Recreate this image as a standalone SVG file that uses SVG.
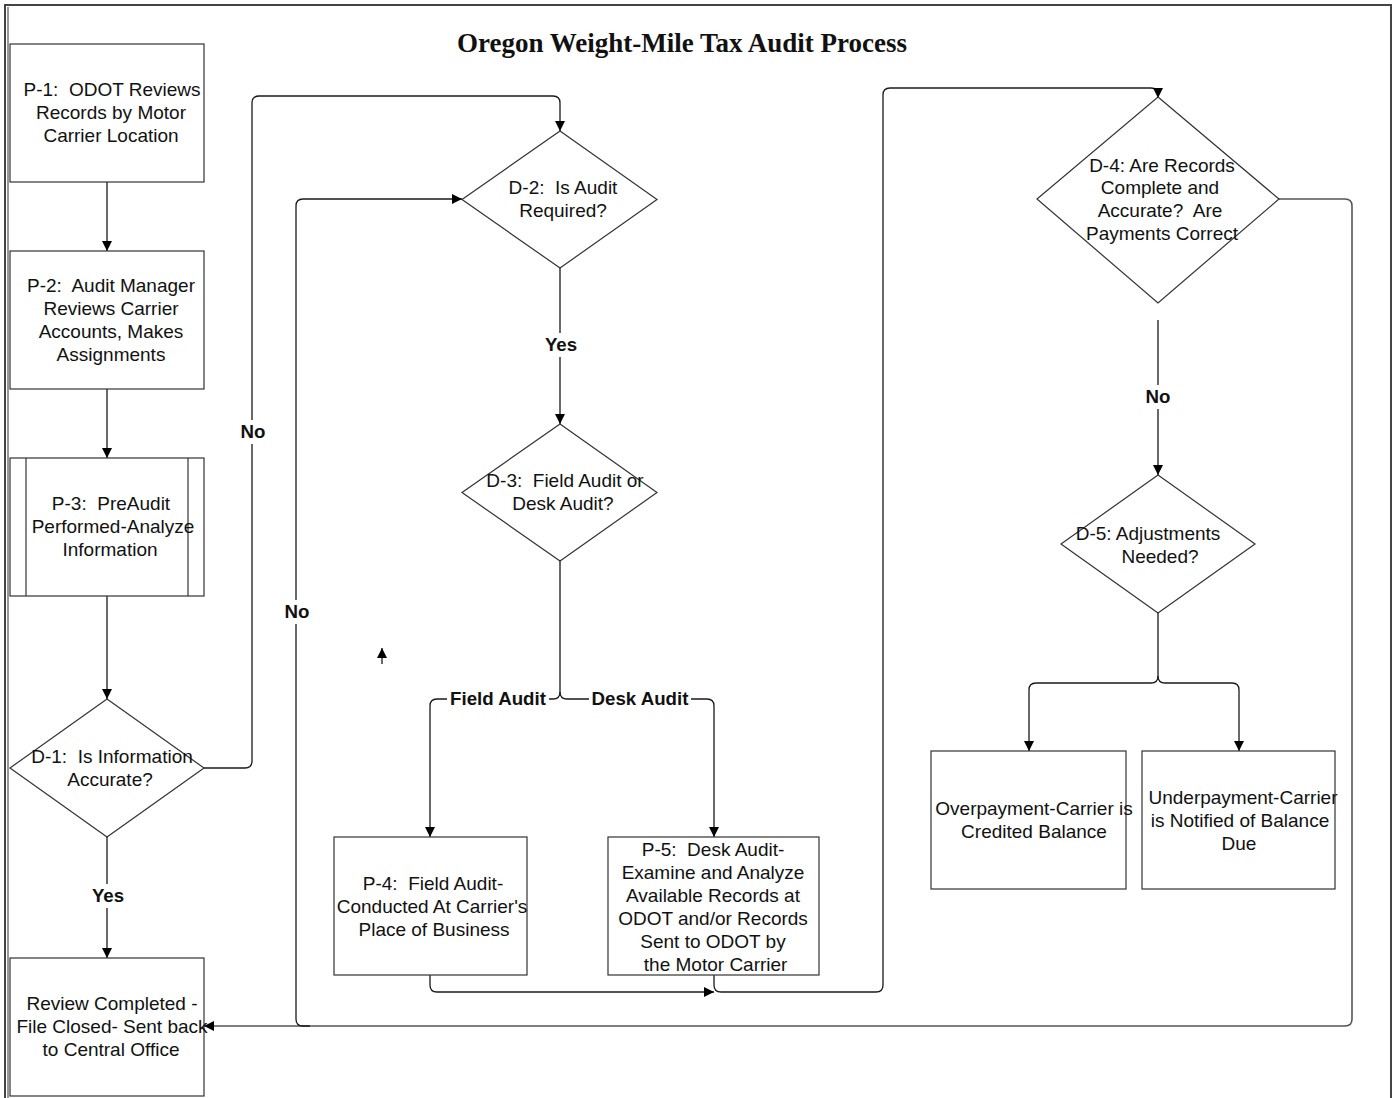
<svg xmlns="http://www.w3.org/2000/svg" width="1396" height="1098" viewBox="0 0 1396 1098">
<style>
.box{fill:#fff;stroke:#333;stroke-width:1.2}
.t{font-family:"Liberation Sans",Arial,sans-serif;font-size:19px;fill:#111;text-anchor:middle;white-space:pre}
.lb{font-family:"Liberation Sans",Arial,sans-serif;font-size:18.7px;font-weight:bold;fill:#111;text-anchor:middle}
.c{fill:none;stroke:#1a1a1a;stroke-width:1.3}
.cg{fill:none;stroke:#555;stroke-width:1.6}
.bg{fill:#fff}
</style>
<defs>
<marker id="ah" viewBox="0 0 10 10" refX="10" refY="5" markerWidth="10" markerHeight="10" markerUnits="userSpaceOnUse" orient="auto">
<path d="M0,0 L10,5 L0,10 z" fill="#000"/>
</marker>
</defs>
<rect width="1396" height="1098" fill="#fff"/>
<g id="frame" fill="none">
<path d="M5 1098 V5 H1391 V1098" stroke="#444" stroke-width="2"/>
<line x1="8" y1="7" x2="8" y2="1098" stroke="#333" stroke-width="1"/>
</g>
<text x="682" y="52" font-family="Liberation Serif,Times New Roman,serif" font-size="27" font-weight="bold" text-anchor="middle" fill="#111">Oregon Weight-Mile Tax Audit Process</text>
<g id="connectors">
<path class="c" d="M107 182 V251" marker-end="url(#ah)"/>
<path class="c" d="M107 389 V458" marker-end="url(#ah)"/>
<path class="c" d="M107 596 V699" marker-end="url(#ah)"/>
<path class="c" d="M107 837 V958" marker-end="url(#ah)"/>
<path class="c" d="M204 768 H245 Q252 768 252 761 V103 Q252 96 259 96 H553 Q560 96 560 103 V131" marker-end="url(#ah)"/>
<path class="c" d="M560 268 V424" marker-end="url(#ah)"/>
<path class="c" d="M560 561 V692 Q560 699 553 699 H437 Q430 699 430 706 V837" marker-end="url(#ah)"/>
<path class="c" d="M560 692 Q560 699 567 699 H707 Q714 699 714 706 V837" marker-end="url(#ah)"/>
<path class="c" d="M430 975 V985 Q430 992 437 992 H714" marker-end="url(#ah)"/>
<path class="c" d="M714 975 V985 Q714 992 721 992 H876 Q883 992 883 985 V95 Q883 88 890 88 H1151 Q1158 88 1158 95 V98" marker-end="url(#ah)"/>
<path class="cg" d="M1279 199 H1345 Q1352 199 1352 206 V1019 Q1352 1026 1345 1026 H204" marker-end="url(#ah)"/>
<path class="c" d="M310 1026 H303 Q296 1026 296 1019 V206 Q296 199 303 199 H462" marker-end="url(#ah)"/>
<path class="c" d="M1158 320 V475" marker-end="url(#ah)"/>
<path class="c" d="M1158 613 V676 Q1158 683 1151 683 H1036 Q1029 683 1029 690 V751" marker-end="url(#ah)"/>
<path class="c" d="M1158 676 Q1158 683 1165 683 H1232 Q1239 683 1239 690 V751" marker-end="url(#ah)"/>
<path class="c" d="M382 664 V648" marker-end="url(#ah)"/>
<rect class="bg" x="239" y="420" width="28" height="24"/>
<text class="lb" x="253" y="438">No</text>
<rect class="bg" x="283" y="600" width="28" height="24"/>
<text class="lb" x="297" y="618">No</text>
<rect class="bg" x="543" y="333" width="36" height="24"/>
<text class="lb" x="561" y="351">Yes</text>
<rect class="bg" x="90" y="884" width="36" height="24"/>
<text class="lb" x="108" y="902">Yes</text>
<rect class="bg" x="1144" y="385" width="28" height="24"/>
<text class="lb" x="1158" y="403">No</text>
<rect class="bg" x="447" y="688" width="102" height="22"/>
<text class="lb" x="498" y="705">Field Audit</text>
<rect class="bg" x="589" y="688" width="102" height="22"/>
<text class="lb" x="640" y="705">Desk Audit</text>
</g>
<g id="P1">
<rect class="box" x="10" y="44" width="194" height="138"/>
<text class="t" x="112" y="96">P-1:  ODOT Reviews</text>
<text class="t" x="111" y="119">Records by Motor</text>
<text class="t" x="111" y="142">Carrier Location</text>
</g>
<g id="P2">
<rect class="box" x="10" y="251" width="194" height="138"/>
<text class="t" x="111" y="292">P-2:  Audit Manager</text>
<text class="t" x="111" y="315">Reviews Carrier</text>
<text class="t" x="111" y="338">Accounts, Makes</text>
<text class="t" x="111" y="361">Assignments</text>
</g>
<g id="P3">
<rect class="box" x="10" y="458" width="194" height="138"/>
<line x1="26" y1="458" x2="26" y2="596" stroke="#333" stroke-width="1.2"/>
<line x1="188" y1="458" x2="188" y2="596" stroke="#333" stroke-width="1.2"/>
<text class="t" x="111" y="510">P-3:  PreAudit</text>
<text class="t" x="113" y="533">Performed-Analyze</text>
<text class="t" x="110" y="556">Information</text>
</g>
<g id="D1">
<polygon class="box" points="107,699 204,768 107,837 10,768"/>
<text class="t" x="112" y="763">D-1:  Is Information</text>
<text class="t" x="110" y="786">Accurate?</text>
</g>
<g id="Review">
<rect class="box" x="10" y="958" width="194" height="138"/>
<text class="t" x="112" y="1010">Review Completed -</text>
<text class="t" x="112" y="1033">File Closed- Sent back</text>
<text class="t" x="111" y="1056">to Central Office</text>
</g>
<g id="D2">
<polygon class="box" points="560,131 657,199.5 560,268 462,199.5"/>
<text class="t" x="563" y="194">D-2:  Is Audit</text>
<text class="t" x="563" y="217">Required?</text>
</g>
<g id="D3">
<polygon class="box" points="560,424 657,492.5 560,561 462,492.5"/>
<text class="t" x="565" y="487">D-3:  Field Audit or</text>
<text class="t" x="563" y="510">Desk Audit?</text>
</g>
<g id="P4">
<rect class="box" x="334" y="837" width="193" height="138"/>
<text class="t" x="433" y="890">P-4:  Field Audit-</text>
<text class="t" x="432" y="913">Conducted At Carrier's</text>
<text class="t" x="434" y="936">Place of Business</text>
</g>
<g id="P5">
<rect class="box" x="608" y="837" width="211" height="138"/>
<text class="t" x="713" y="856">P-5:  Desk Audit-</text>
<text class="t" x="713" y="879">Examine and Analyze</text>
<text class="t" x="713" y="902">Available Records at</text>
<text class="t" x="713" y="925">ODOT and/or Records</text>
<text class="t" x="713" y="948">Sent to ODOT by</text>
<text class="t" x="713" y="971"> the Motor Carrier</text>
</g>
<g id="D4">
<polygon class="box" points="1158,97 1279,199 1158,303 1037,199"/>
<text class="t" x="1162" y="172">D-4: Are Records</text>
<text class="t" x="1160" y="194">Complete and</text>
<text class="t" x="1160" y="217">Accurate?  Are</text>
<text class="t" x="1162" y="240">Payments Correct</text>
</g>
<g id="D5">
<polygon class="box" points="1158,475 1255,544 1158,613 1061,544"/>
<text class="t" x="1148" y="540">D-5: Adjustments</text>
<text class="t" x="1160" y="563">Needed?</text>
</g>
<g id="Over">
<rect class="box" x="931" y="751" width="195" height="138"/>
<text class="t" x="1034" y="815">Overpayment-Carrier is</text>
<text class="t" x="1034" y="838">Credited Balance</text>
</g>
<g id="Under">
<rect class="box" x="1142" y="751" width="193" height="138"/>
<text class="t" x="1243" y="804">Underpayment-Carrier</text>
<text class="t" x="1240" y="827">is Notified of Balance</text>
<text class="t" x="1239" y="850">Due</text>
</g>
</svg>
